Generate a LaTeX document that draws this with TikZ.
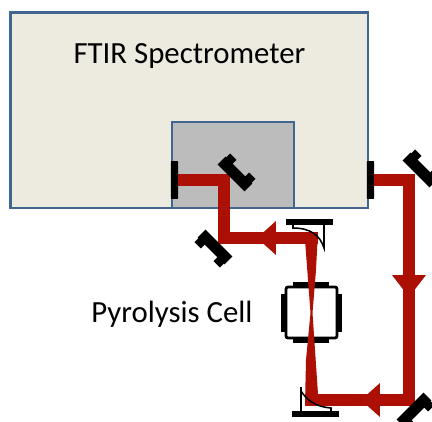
\documentclass[tikz,border=0pt]{standalone}
\usepackage[svgnames]{xcolor}
\usepackage{fontspec}
\setmainfont{Carlito}
\definecolor{boxblue}{HTML}{41668F}
\definecolor{benchbeige}{HTML}{EDEBE0}
\definecolor{beamred}{HTML}{AC1005}
\tikzset{
	beam/.style={draw=beamred,line width=8.2pt,line join=miter},
	detector/.style={fill=black,rounded corners=.5pt,minimum width=5pt,minimum height=27pt,inner sep=0pt},
	plate/.style={fill=black,minimum width=33.5pt,minimum height=4.2pt,inner sep=0pt},
	window/.style={fill=black,inner sep=0pt},
	bracket/.style={line width=1.1pt},
	pics/mirror/.style={code={
		\fill[black] (-19,-5.5) rectangle (19,5.5);
		\fill[black] (-18,4) rectangle (-9,11);
		\fill[black] (9,4) rectangle (18,11);
	}}
}
\begin{document}
\begin{tikzpicture}[x=.25mm, y=-.25mm, font=\fontsize{21.9}{26}\selectfont]
	\useasboundingbox (0,0) rectangle (432,422);
	\draw[color=boxblue,line width=1.9pt,fill=benchbeige] (10.5,12.5) rectangle (368,208);
	\draw[color=boxblue,line width=1.9pt,fill=lightgray!95!gray] (172,122) rectangle (294,208);
	\node (ftir) at (189.5,56) {FTIR Spectrometer};
	\node (cell) at (172,314) {Pyrolysis Cell};

	\draw[line width=2pt,fill=white,rounded corners=1.5pt] (286,287) rectangle (337,338);
	\node[window,minimum width=26pt,minimum height=3.6pt] (wintop) at (311,285) {};
	\node[window,minimum width=26pt,minimum height=3.6pt] (winbot) at (311,340.5) {};
	\node[window,minimum width=3.6pt,minimum height=27pt] (winleft) at (283.5,313) {};
	\node[window,minimum width=3.6pt,minimum height=27pt] (winright) at (339,313) {};

	\node[detector] (detin) at (174.5,180) {};
	\node[detector] (detout) at (370.5,180) {};
	\coordinate (foldin) at (224,180);
	\coordinate (foldlow) at (224,238);
	\coordinate (headtop) at (257,238);
	\coordinate (oaptop) at (318,238);
	\coordinate (foldout) at (409,180);
	\coordinate (headright) at (409,297);
	\coordinate (foldbot) at (409,400);
	\coordinate (headbot) at (361,400);
	\coordinate (oapbot) at (305,400);

	\draw[beam] (detin.east) -- (foldin) -- (foldlow) -- (oaptop);
	\draw[beam] (detout.east) -- (foldout) -- (foldbot) -- (oapbot);
	\fill[beamred] (headtop) -- ++(19,-17) -- ++(0,34) -- cycle;
	\fill[beamred] (headright) -- ++(-17,-22) -- ++(34,0) -- cycle;
	\fill[beamred] (headbot) -- ++(19,-17) -- ++(0,34) -- cycle;
	\fill[beamred] (305,240) -- (318,232) -- (316,270) -- (312.5,313) -- (318,394) -- (318,405) -- (305,405) -- (306,360) -- (310.5,313) -- cycle;

	\pic[rotate=135] at (235,174) {mirror};
	\pic[rotate=-45] at (215,247) {mirror};
	\pic[rotate=135] at (420,170) {mirror};
	\pic[rotate=45] at (414,410) {mirror};

	\node[plate] (oapup) at (309.5,222) {};
	\draw[bracket] (293,225) -- (293,228) .. controls (310,228) and (320,235) .. (324,248) -- (324,225);
	\node[plate] (oapdown) at (315.5,414) {};
	\draw[bracket] (331,411) -- (331,408) .. controls (318,407) and (308,402) .. (301,391) -- (301,387) -- (301,411);
\end{tikzpicture}
\end{document}
